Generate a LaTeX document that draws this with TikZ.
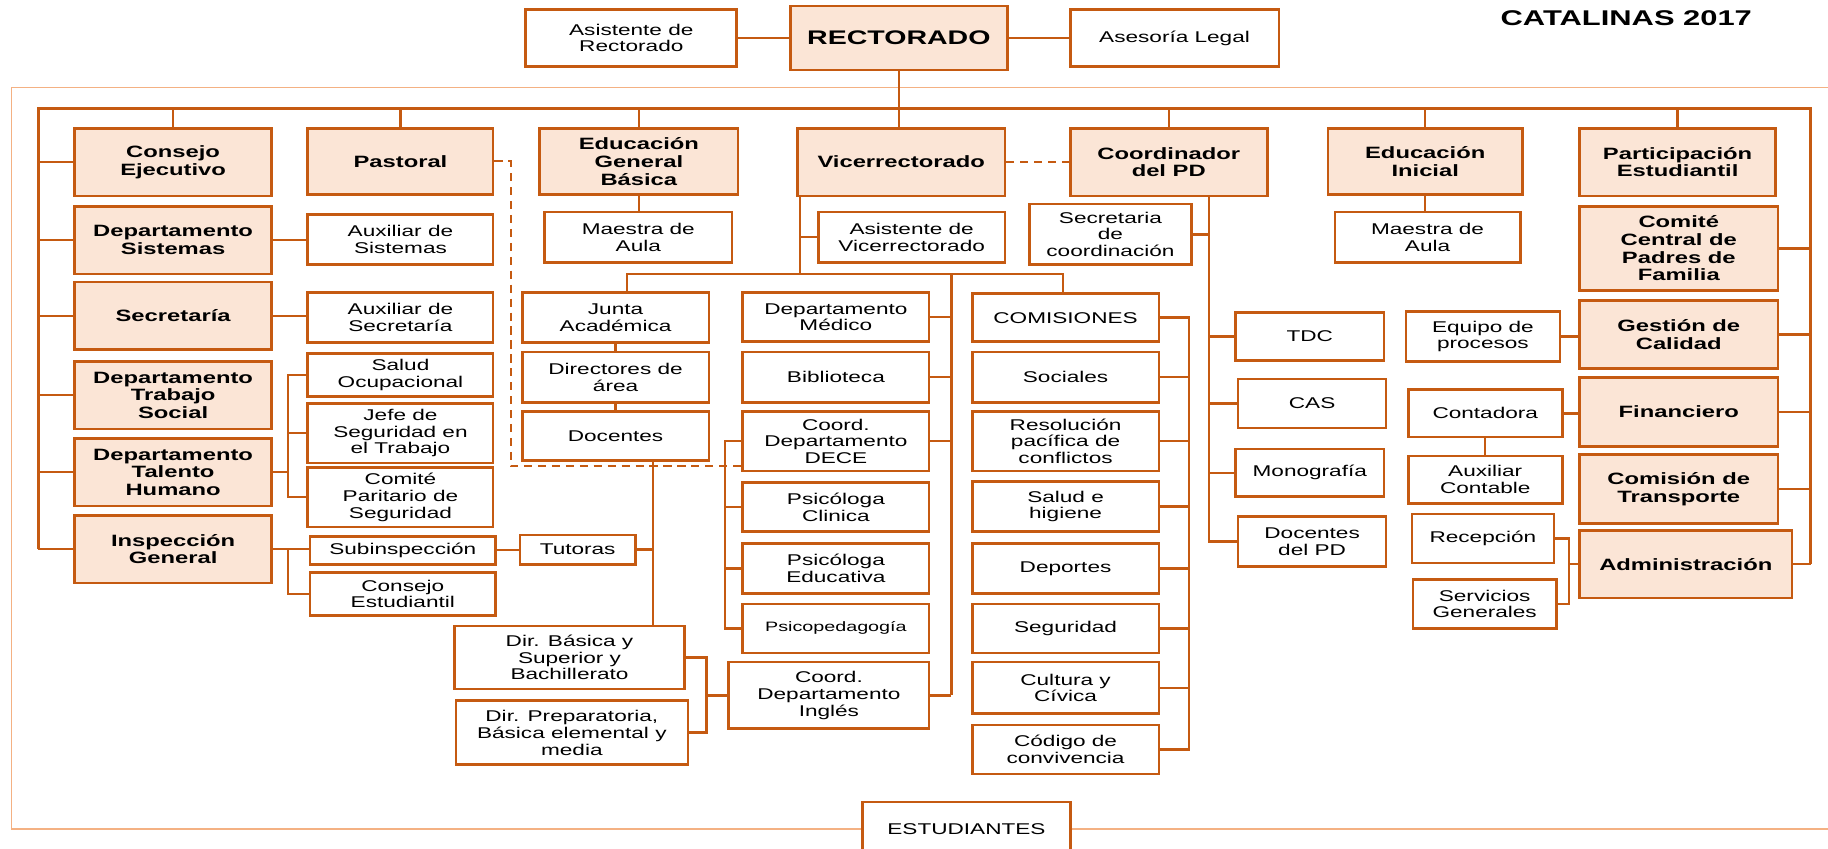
\documentclass[tikz,border=0pt]{standalone}
\usepackage{fontspec}
\setmainfont{Liberation Sans}[FakeStretch=1.45]
\definecolor{naranja}{HTML}{C55A11}
\definecolor{durazno}{HTML}{FBE5D6}
\definecolor{marco}{HTML}{F4B183}
\newcommand{\txtn}{\fontsize{9.5}{10.2}\selectfont}
\newcommand{\txtb}{\fontsize{10}{10.8}\selectfont\bfseries}
\tikzset{bx/.style 2 args={minimum width=#1*0.025cm, minimum height=#2*0.025cm}}

\begin{document}
\begin{tikzpicture}[x=0.025cm, y=-0.025cm,
  n/.style={draw=naranja, line width=1.6pt, fill=white, inner sep=1pt, align=center, font=\txtn},
  nb/.style={n, fill=durazno, font=\txtb},
  cn/.style={draw=naranja, line width=1.5pt}]
\useasboundingbox (0,0) rectangle (1568,728);

\node[n, bx={181}{49}] (asisr) at (541.5,32.5) {Asistente de\\Rectorado};
\node[nb, bx={186}{55}, font=\fontsize{12}{12}\selectfont\bfseries] (rect) at (771,32.5) {RECTORADO};
\node[n, bx={179}{49}] (legal) at (1007.5,32.5) {Asesoría Legal};
\node[font=\fontsize{13}{13}\selectfont\bfseries] (titulo) at (1395,16) {CATALINAS 2017};

\node[nb, bx={169}{58}] (cons) at (148.5,139) {Consejo\\Ejecutivo};
\node[nb, bx={159}{57}] (past) at (343.5,138.5) {Pastoral};
\node[nb, bx={170}{57}] (egb) at (548,138.5) {Educación\\General\\Básica};
\node[nb, bx={178}{58}] (vice) at (773,139) {Vicerrectorado};
\node[nb, bx={169}{58}] (coord) at (1002.5,139) {Coordinador\\del PD};
\node[nb, bx={167}{57}] (einic) at (1222.5,138.5) {Educación\\Inicial};
\node[nb, bx={168}{58}] (part) at (1439,139) {Participación\\Estudiantil};

\node[nb, bx={169}{58}] (sist) at (148.5,206) {Departamento\\Sistemas};
\node[nb, bx={169}{58}] (secr) at (148.5,271) {Secretaría};
\node[nb, bx={169}{58}] (trab) at (148.5,339) {Departamento\\Trabajo\\Social};
\node[nb, bx={169}{58}] (tal) at (148.5,405) {Departamento\\Talento\\Humano};
\node[nb, bx={169}{58}] (insp) at (148.5,471) {Inspección\\General};

\node[n, bx={159}{43}] (auxs) at (343.5,205.5) {Auxiliar de\\Sistemas};
\node[n, bx={159}{43}] (auxsec) at (343.5,272.5) {Auxiliar de\\Secretaría};
\node[n, bx={159}{37}] (salud) at (343.5,321.5) {Salud\\Ocupacional};
\node[n, bx={159}{51}] (jefe) at (343.5,371.5) {Jefe de\\Seguridad en\\el Trabajo};
\node[n, bx={159}{51}] (comp) at (343.5,426.5) {Comité\\Paritario de\\Seguridad};
\node[n, bx={159}{24}] (subi) at (345.5,472) {Subinspección};
\node[n, bx={159}{37}] (cest) at (345.5,509.5) {Consejo\\Estudiantil};
\node[n, bx={99}{25}] (tut) at (495.5,471.5) {Tutoras};

\node[n, bx={161}{43}] (maula1) at (547.5,203.5) {Maestra de\\Aula};
\node[n, bx={160}{43}] (junta) at (528,272.5) {Junta\\Académica};
\node[n, bx={160}{43}] (dira) at (528,323.5) {Directores de\\área};
\node[n, bx={160}{42}] (doc) at (528,374) {Docentes};
\node[n, bx={197}{54}] (dirb) at (488.5,564) {Dir. Básica y\\Superior y\\Bachillerato};
\node[n, bx={199}{55}] (dirp) at (490.5,628.5) {Dir. Preparatoria,\\Básica elemental y\\media};

\node[n, bx={160}{43}] (asisv) at (782,203.5) {Asistente de\\Vicerrectorado};
\node[n, bx={160}{42}] (med) at (717,272) {Departamento\\Médico};
\node[n, bx={160}{43}] (bib) at (717,323.5) {Biblioteca};
\node[n, bx={160}{51}] (dece) at (717,378.5) {Coord.\\Departamento\\DECE};
\node[n, bx={160}{42}] (psic) at (717,435) {Psicóloga\\Clinica};
\node[n, bx={160}{43}] (psie) at (717,487.5) {Psicóloga\\Educativa};
\node[n, bx={160}{42}, font=\fontsize{8.3}{9}\selectfont] (psped) at (717,539) {Psicopedagogía};
\node[n, bx={172}{57}] (ingl) at (711,596.5) {Coord.\\Departamento\\Inglés};

\node[n, bx={160}{41}] (comi) at (914,272.5) {COMISIONES};
\node[n, bx={160}{43}] (soc) at (914,323.5) {Sociales};
\node[n, bx={160}{51}] (reso) at (914,378.5) {Resolución\\pacífica de\\conflictos};
\node[n, bx={160}{43}] (salh) at (914,434.5) {Salud e\\higiene};
\node[n, bx={160}{43}] (dep) at (914,487.5) {Deportes};
\node[n, bx={160}{42}] (seg) at (914,539) {Seguridad};
\node[n, bx={160}{44}] (cult) at (914,590) {Cultura y\\Cívica};
\node[n, bx={160}{42}] (cod) at (914,643) {Código de\\convivencia};

\node[n, bx={139}{52}] (secc) at (952.5,201) {Secretaria\\de\\coordinación};
\node[n, bx={127}{41}] (tdc) at (1123.5,288.5) {TDC};
\node[n, bx={127}{42}] (cas) at (1125.5,346) {CAS};
\node[n, bx={127}{41}] (mono) at (1123.5,405.5) {Monografía};
\node[n, bx={127}{43}] (docpd) at (1125.5,464.5) {Docentes\\del PD};
\node[n, bx={159}{43}] (maula2) at (1224.5,203.5) {Maestra de\\Aula};

\node[n, bx={132}{43}] (equipo) at (1272,288.5) {Equipo de\\procesos};
\node[n, bx={132}{41}] (conta) at (1274,354.5) {Contadora};
\node[n, bx={132}{41}] (auxc) at (1274,411.5) {Auxiliar\\Contable};
\node[n, bx={122}{42}] (recep) at (1272,462) {Recepción};
\node[n, bx={123}{42}] (serv) at (1273.5,518) {Servicios\\Generales};

\node[nb, bx={170}{72}] (padres) at (1440,213) {Comité\\Central de\\Padres de\\Familia};
\node[nb, bx={170}{58}] (gest) at (1440,287) {Gestión de\\Calidad};
\node[nb, bx={170}{59}] (fin) at (1440,353.5) {Financiero};
\node[nb, bx={170}{59}] (trans) at (1440,419.5) {Comisión de\\Transporte};
\node[nb, bx={182}{58}] (adm) at (1446,484) {Administración};

\node[n, bx={178}{46}] (est) at (829,711) {ESTUDIANTES};

\coordinate (bl) at (33,93);
\coordinate (br) at (1553,93);
\coordinate (tb) at (247,0);
\coordinate (dv) at (560,0);
\coordinate (vv) at (686,235);
\coordinate (vl) at (538,235);
\coordinate (vr) at (912,235);
\coordinate (vm) at (816,235);
\coordinate (db) at (622,0);
\coordinate (dk) at (606,0);
\coordinate (cb) at (1020,0);
\coordinate (cv) at (1037,0);
\coordinate (rb) at (1346,0);
\coordinate (pd) at (438,400);
\coordinate (fl) at (10,75);
\coordinate (fr) at (1568,75);

\draw[marco, line width=0.8pt] (fr) -- (fl) -- (fl |- est.west) -- (est.west) (est.east) -- (est.east -| fr);

\draw[cn] (asisr.east) -- (rect.west) (rect.east) -- (legal.west);
\draw[cn] (rect.south) -- (rect.south |- vice.north);
\draw[cn] (insp.west -| bl) -- (bl) -- (br) -- (adm.east -| br);
\foreach \b in {cons,past,egb,coord,einic,part} \draw[cn] (\b.north) -- (\b.north |- bl);
\foreach \b in {cons,sist,secr,trab,tal,insp} \draw[cn] (\b.west -| bl) -- (\b.west);
\foreach \b in {padres,gest,fin,trans,adm} \draw[cn] (\b.east) -- (\b.east -| br);

\draw[cn] (sist.east) -- (sist.east -| auxs.west);
\draw[cn] (secr.east) -- (secr.east -| auxsec.west);
\draw[cn] (tal.east) -- (tal.east -| tb);
\draw[cn] (salud.west) -- (salud.west -| tb) -- (comp.west -| tb) -- (comp.west);
\draw[cn] (jefe.west) -- (jefe.west -| tb);
\draw[cn] (insp.east) -- (insp.east -| subi.west);
\draw[cn] (insp.east -| tb) |- (cest.west);
\draw[cn] (subi.east) -- (subi.east -| tut.west);
\draw[cn] (tut.east) -- (tut.east -| dv);
\draw[cn] (doc.south -| dv) -- (dirb.north -| dv);
\draw[cn] (junta.south) -- (dira.north) (dira.south) -- (doc.north);
\draw[cn, dashed, dash pattern=on 5pt off 3.5pt, line width=1.2pt] (past.east) -| (pd) -- (pd -| dece.west);

\draw[cn, dashed, dash pattern=on 5pt off 3.5pt, line width=1.2pt] (vice.east) -- (coord.west);
\draw[cn] (vice.south -| vv) -- (vv);
\draw[cn] (asisv.west) -- (asisv.west -| vv);
\draw[cn] (vl |- junta.north) -- (vl) -- (vr) -- (vr |- comi.north);
\draw[cn] (vm) -- (vm |- ingl.east);
\foreach \b in {med,bib,dece,ingl} \draw[cn] (\b.east) -- (\b.east -| vm);
\draw[cn] (dece.west) -- (dece.west -| db) -- (psped.west -| db) -- (psped.west);
\foreach \b in {psic,psie} \draw[cn] (\b.west) -- (\b.west -| db);
\draw[cn] (dirb.east) -- (dirb.east -| dk) -- (dirp.east -| dk) -- (dirp.east);
\draw[cn] (ingl.west) -- (ingl.west -| dk);
\draw[cn] (comi.east) -- (comi.east -| cb) -- (cod.east -| cb) -- (cod.east);
\foreach \b in {soc,reso,salh,dep,seg,cult} \draw[cn] (\b.east) -- (\b.east -| cb);

\draw[cn] (coord.south -| cv) -- (docpd.west -| cv) -- (docpd.west);
\draw[cn] (secc.east) -- (secc.east -| cv);
\foreach \b in {tdc,cas,mono} \draw[cn] (\b.west) -- (\b.west -| cv);
\draw[cn] (egb.south) -- (egb.south |- maula1.north);
\draw[cn] (einic.south) -- (einic.south |- maula2.north);
\draw[cn] (equipo.east) -- (equipo.east -| gest.west);
\draw[cn] (conta.east) -- (conta.east -| fin.west);
\draw[cn] (conta.south) -- (auxc.north);
\draw[cn] (recep.east) -- (recep.east -| rb) -- (serv.east -| rb) -- (serv.east);
\draw[cn] (adm.west) -- (adm.west -| rb);
\end{tikzpicture}
\end{document}
